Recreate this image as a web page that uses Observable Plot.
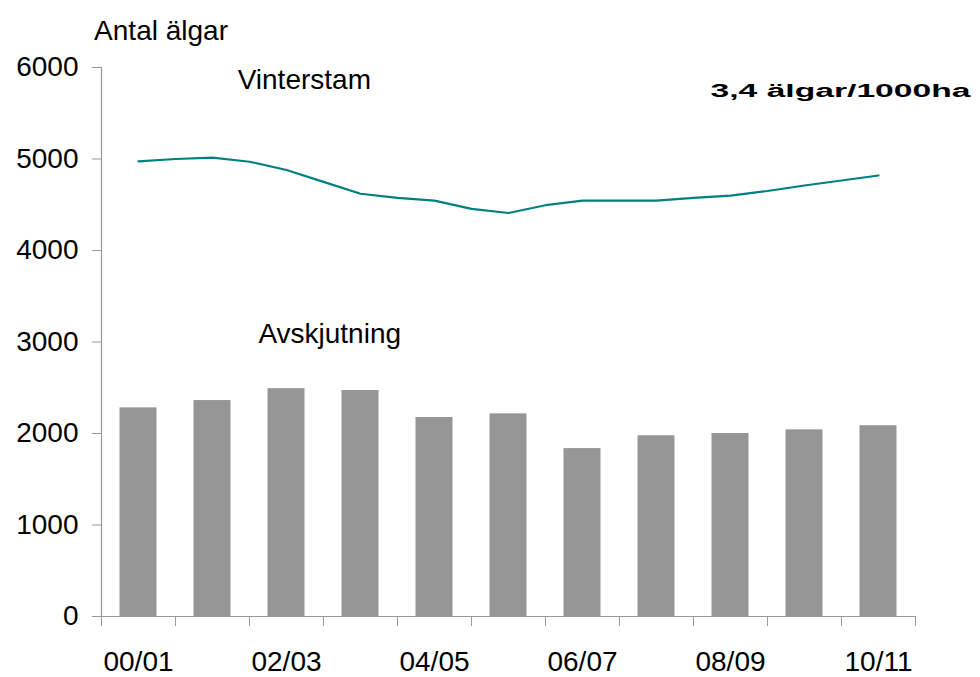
<!DOCTYPE html>
<html>
<head>
<meta charset="utf-8">
<script src="https://cdn.jsdelivr.net/npm/d3@7"></script>
<script src="https://cdn.jsdelivr.net/npm/@observablehq/plot@0.6"></script>
<style>
  html, body { margin: 0; padding: 0; background: #fff; }
  #chart { width: 980px; height: 677px; }
</style>
</head>
<body>
<div id="chart"></div>
<script>
// Seasons (categories)
const seasons = ["00/01","01/02","02/03","03/04","04/05","05/06","06/07","07/08","08/09","09/10","10/11"];
// Avskjutning (harvest), bars
const avskjutning = [2280, 2360, 2490, 2470, 2175, 2215, 1835, 1975, 2000, 2040, 2085];
// Vinterstam (winter population), read at each half season step
const vinterstamPos = [0, 0.5, 1, 1.5, 2, 2.5, 3, 3.5, 4, 4.5, 5, 5.5, 6, 6.5, 7, 7.5, 8, 8.5, 9, 9.5, 10];
const vinterstam = [4975, 5000, 5015, 4970, 4880, 4750, 4620, 4575, 4545, 4455, 4410, 4495, 4545, 4545, 4545, 4575, 4600, 4650, 4710, 4765, 4820];
// Tick labels
const yTicks = [0, 1000, 2000, 3000, 4000, 5000, 6000];
const xLabelIdx = [0, 2, 4, 6, 8, 10];
const boundaries = [-0.5, 0.5, 1.5, 2.5, 3.5, 4.5, 5.5, 6.5, 7.5, 8.5, 9.5, 10.5];

const bars = seasons.map((s, i) => ({i, season: s, v: avskjutning[i]}));
const linePts = vinterstamPos.map((p, k) => ({p, v: vinterstam[k]}));

const FONT = "'Liberation Sans', Arial, sans-serif";
const axisGrey = "#999999";
const rateLabel = "3,4 älgar/1000ha";

const chart = Plot.plot({
  width: 980,
  height: 677,
  marginLeft: 101,
  marginRight: 65,
  marginTop: 67,
  marginBottom: 61,
  style: {fontFamily: FONT, background: "#fff", color: "#000", overflow: "visible"},
  x: {domain: [-0.5, 10.5]},
  y: {domain: [0, 6000]},
  marks: [
    Plot.rectY(bars, {x1: d => d.i - 0.25, x2: d => d.i + 0.25, y: "v", fill: "#969696"}),
    Plot.ruleY([0], {stroke: axisGrey, strokeWidth: 1.2}),
    Plot.ruleX([-0.5], {stroke: axisGrey, strokeWidth: 1.2}),
    Plot.axisY({ticks: yTicks, tickSize: 9, tickPadding: 14, fontSize: 28, stroke: axisGrey, fill: "#000", label: null, tickFormat: d => String(d)}),
    Plot.axisX({ticks: boundaries, tickSize: 10, tickFormat: () => "", stroke: axisGrey, label: null}),
    Plot.axisX({ticks: xLabelIdx, tickSize: 0, tickPadding: 35, fontSize: 28, fill: "#000", label: null, tickFormat: i => seasons[i]}),
    Plot.line(linePts, {x: "p", y: "v", stroke: "#008080", strokeWidth: 2.2}),
    Plot.text(["Antal älgar"], {x: -0.6, y: 6400, text: d => d, textAnchor: "start", fontSize: 28, fill: "#000", clip: false}),
    Plot.text(["Vinterstam"], {x: 1.34, y: 5860, text: d => d, textAnchor: "start", fontSize: 28, fill: "#000"}),
    Plot.text(["Avskjutning"], {x: 1.62, y: 3090, text: d => d, textAnchor: "start", fontSize: 28, fill: "#000"}),
    Plot.text([rateLabel], {x: 7.73, y: 5740, text: d => d, textAnchor: "start", fontSize: 18, fontWeight: "bold", fill: "#000"})
  ]
});

d3.select(chart).selectAll("text").filter(function() { return this.textContent === rateLabel; })
  .attr("textLength", 260).attr("lengthAdjust", "spacingAndGlyphs");

document.getElementById("chart").appendChild(chart);
</script>
</body>
</html>
